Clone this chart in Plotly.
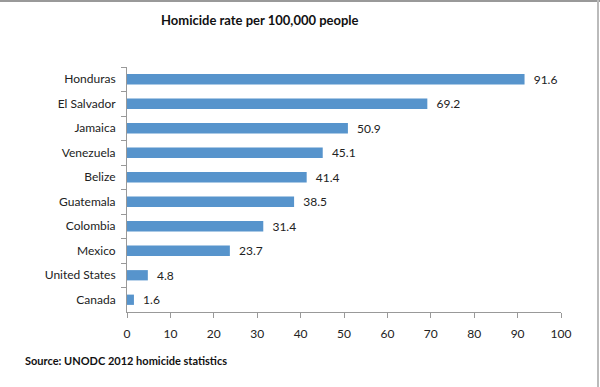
import plotly.graph_objects as go

countries = ["Honduras", "El Salvador", "Jamaica", "Venezuela", "Belize",
             "Guatemala", "Colombia", "Mexico", "United States", "Canada"]
rates = [91.6, 69.2, 50.9, 45.1, 41.4, 38.5, 31.4, 23.7, 4.8, 1.6]
x_ticks = [0, 10, 20, 30, 40, 50, 60, 70, 80, 90, 100]

W, H = 600, 387
L, R, T, B = 127, 39, 67, 75
pw, ph = W - L - R, H - T - B

def px(x):
    return (x - L) / pw

def py(y):
    return (H - B - y) / ph

fig = go.Figure(go.Bar(
    y=countries, x=rates, orientation="h",
    marker=dict(color="#5794CC", line=dict(width=0)),
    text=[f"  {v:.1f}" for v in rates], textposition="outside",
    constraintext="none",
    textfont=dict(size=12, color="#222222"), cliponaxis=False,
))

font_family = "Lato, Open Sans, sans-serif"
fig.update_layout(
    width=W, height=H,
    margin=dict(l=L, r=R, t=T, b=B),
    paper_bgcolor="white", plot_bgcolor="white",
    font=dict(family=font_family, size=12, color="#222222"),
    bargap=0.58,
    showlegend=False,
    xaxis=dict(range=[0, 100], tickvals=x_ticks, ticks="outside", ticklen=5,
               tickcolor="#999999", showline=True, linecolor="#999999",
               showgrid=False, zeroline=False, tickfont=dict(size=12),
               ticklabelstandoff=6, fixedrange=True),
    yaxis=dict(autorange="reversed", ticks="outside", tickson="boundaries",
               ticklen=5, tickcolor="#999999", showline=True,
               linecolor="#999999", showgrid=False, ticklabelstandoff=8,
               tickfont=dict(size=12), fixedrange=True),
    annotations=[
        dict(text="<b>Homicide rate per 100,000 people</b>", xref="paper", yref="paper",
             x=px(260), y=py(20), xanchor="center", yanchor="middle",
             showarrow=False, font=dict(size=13, color="#111111")),
        dict(text="<b>Source: UNODC 2012 homicide statistics</b>", xref="paper", yref="paper",
             x=px(23), y=py(360), xanchor="left", yanchor="middle",
             showarrow=False, font=dict(size=11, color="#111111")),
    ],
    shapes=[
        dict(type="line", xref="paper", yref="paper", x0=px(0), x1=px(600),
             y0=py(1), y1=py(1), line=dict(color="#999999", width=2)),
        dict(type="line", xref="paper", yref="paper", x0=px(598), x1=px(598),
             y0=py(0), y1=py(387), line=dict(color="#bbbbbb", width=2)),
    ],
)

fig.write_html("out.html", config={"displayModeBar": False},
               post_script="document.body.style.margin='0';")
